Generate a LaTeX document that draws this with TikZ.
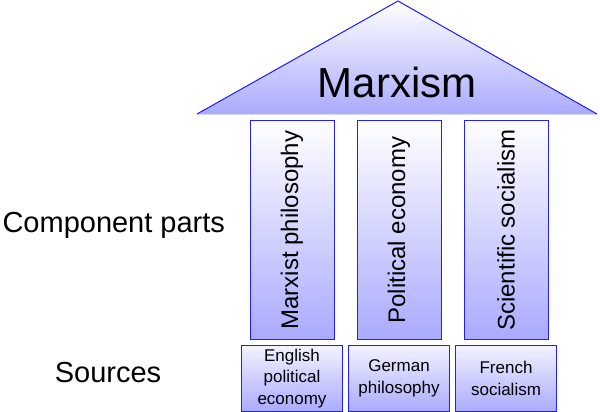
\documentclass[tikz,border=0pt]{standalone}
\usepackage{fontspec}
\setmainfont{Liberation Sans}
\usetikzlibrary{positioning}
\definecolor{paleblue}{HTML}{AAAAFF}
\definecolor{edgeblue}{HTML}{2020FF}

\begin{document}
\begin{tikzpicture}[x=1pt, y=-1pt,
	column/.style={draw=edgeblue, line width=1pt, top color=white, bottom color=paleblue,
		minimum width=84pt, minimum height=219pt, inner sep=0pt},
	source/.style={draw=edgeblue, line width=1pt, top color=paleblue!15, bottom color=paleblue,
		minimum width=101pt, minimum height=66pt, inner sep=0pt, align=center,
		font=\fontsize{17}{21.5}\selectfont},
	coltext/.style={rotate=90, font=\fontsize{24}{28}\selectfont},
	side/.style={font=\fontsize{29}{34}\selectfont}]
\useasboundingbox (0,0) rectangle (600,412);
% roof
\fill [top color=white, bottom color=paleblue] (197,114) -- (398,1) -- (597,114) -- cycle;
\draw [edgeblue, line width=1pt] (197,114) -- (398,1) -- (597,114);
\node [font=\fontsize{42}{48}\selectfont] (marxism) at (397,82) {Marxism};
% component parts
\node [column] (philosophy) at (292,230) {};
\node [column, right=22pt of philosophy] (economy) {};
\node [column, right=22pt of economy] (socialism) {};
\node [coltext] at (philosophy) {Marxist philosophy};
\node [coltext] at (economy) {Political economy};
\node [coltext] at (socialism) {Scientific socialism};
% sources
\node [source, below=5pt of philosophy] (english) {English\\political\\economy};
\node [source, below=5pt of economy] (german) {German\\philosophy};
\node [source, below=5pt of socialism] (french) {French\\socialism};
\node [side, anchor=west] (parts) at (-1,225) {Component parts};
\node [side] (sources) at (108,373) {Sources};
\end{tikzpicture}
\end{document}
